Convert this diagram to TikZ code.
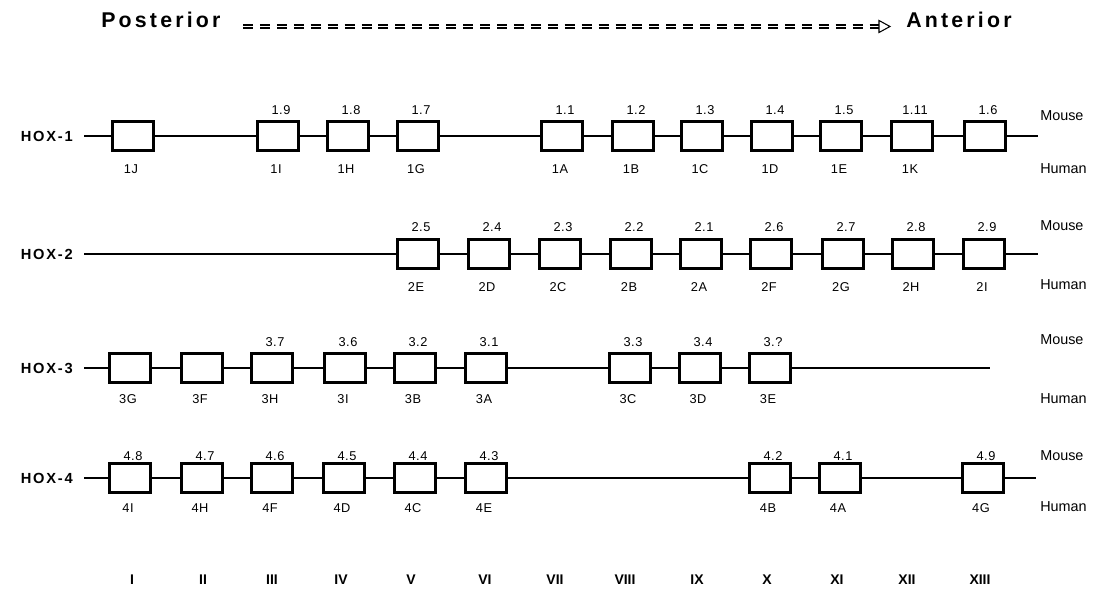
\documentclass[tikz,border=0pt]{standalone}
\usepackage{fontspec}
\setmainfont{Liberation Sans}
\newfontfamily\trackfont{Liberation Sans}[LetterSpace=15]
\newfontfamily\hoxfont{Liberation Sans}[LetterSpace=12]
\newfontfamily\lblfont{Liberation Sans}[LetterSpace=4]
\usetikzlibrary{arrows.meta}
\tikzset{
  genebox/.style={draw, line width=2.7pt, minimum width=31pt, minimum height=21.5pt, inner sep=0pt},
  conn/.style={line width=1.25pt},
  mlab/.style={font=\lblfont\fontsize{9.6}{11}\selectfont, inner sep=0pt},
  hlab/.style={font=\lblfont\fontsize{9.6}{11}\selectfont, inner sep=0pt},
  side/.style={font=\fontsize{10.8}{12}\selectfont, anchor=west, inner sep=0pt},
  hox/.style={font=\hoxfont\bfseries\fontsize{11}{13}\selectfont, anchor=east, inner sep=0pt},
  title/.style={font=\trackfont\bfseries\fontsize{16}{18}\selectfont, inner sep=0pt},
  roman/.style={font=\bfseries\fontsize{10.5}{12}\selectfont, inner sep=0pt},
  dblarrow/.style={line width=1.1pt, double, double distance=1.4pt, dash pattern=on 7.5pt off 5.2pt}
}
\newcommand\gene[4]{%
  \node[genebox] (#1) at (#2,\rowy) {};
  \if\relax\detokenize{#3}\relax\else\node[mlab] (#1m) at (#2+3,\my) {#3};\fi
  \if\relax\detokenize{#4}\relax\else\node[hlab] (#1h) at (#2-2,\hy) {#4};\fi
}
\begin{document}
\begin{tikzpicture}[x=0.75pt,y=-0.75pt]
\useasboundingbox (0,0) rectangle (1094,602);

% header
\node[title, anchor=west] (post) at (101,20) {Posterior};
\node[title, anchor=west] (ant) at (906,20) {Anterior};
\coordinate (arrS) at (243,26.5);
\coordinate (arrB) at (879,26.5);
\draw[dblarrow] (arrS) -- (arrB);
\draw[line width=0.8pt, fill=white, line join=miter] (arrB) ++(0,-6) -- ++(11,6) -- ++(-11,6) -- cycle;

% ---------- HOX-1
\def\rowy{136}\def\my{110}\def\hy{169}
\node[hox] (hox1) at (73,\rowy) {HOX-1};
\coordinate (s1) at (84,\rowy);
\coordinate (e1) at (1038,\rowy);
\gene{g1J}{133}{}{1J}
\gene{g1I}{278}{1.9}{1I}
\gene{g1H}{348}{1.8}{1H}
\gene{g1G}{418}{1.7}{1G}
\gene{g1A}{562}{1.1}{1A}
\gene{g1B}{633}{1.2}{1B}
\gene{g1C}{702}{1.3}{1C}
\gene{g1D}{772}{1.4}{1D}
\gene{g1E}{841}{1.5}{1E}
\gene{g1K}{912}{1.11}{1K}
\gene{g1L}{985}{1.6}{}
\foreach \a/\b in {s1/g1J,g1J/g1I,g1I/g1H,g1H/g1G,g1G/g1A,g1A/g1B,g1B/g1C,g1C/g1D,g1D/g1E,g1E/g1K,g1K/g1L,g1L/e1}
  \draw[conn] (\a) -- (\b);
\node[side] (mo1) at (1040,116) {Mouse};
\node[side] (hu1) at (1040,169) {Human};

% ---------- HOX-2
\def\rowy{254}\def\my{227}\def\hy{287}
\node[hox] (hox2) at (73,\rowy) {HOX-2};
\coordinate (s2) at (84,\rowy);
\coordinate (e2) at (1038,\rowy);
\gene{g2E}{418}{2.5}{2E}
\gene{g2D}{489}{2.4}{2D}
\gene{g2C}{560}{2.3}{2C}
\gene{g2B}{631}{2.2}{2B}
\gene{g2A}{701}{2.1}{2A}
\gene{g2F}{771}{2.6}{2F}
\gene{g2G}{843}{2.7}{2G}
\gene{g2H}{913}{2.8}{2H}
\gene{g2I}{984}{2.9}{2I}
\foreach \a/\b in {s2/g2E,g2E/g2D,g2D/g2C,g2C/g2B,g2B/g2A,g2A/g2F,g2F/g2G,g2G/g2H,g2H/g2I,g2I/e2}
  \draw[conn] (\a) -- (\b);
\node[side] (mo2) at (1040,226) {Mouse};
\node[side] (hu2) at (1040,285) {Human};

% ---------- HOX-3
\def\rowy{368}\def\my{342}\def\hy{399}
\node[hox] (hox3) at (73,\rowy) {HOX-3};
\coordinate (s3) at (84,\rowy);
\coordinate (e3) at (990,\rowy);
\gene{g3G}{130}{}{3G}
\gene{g3F}{202}{}{3F}
\gene{g3H}{272}{3.7}{3H}
\gene{g3I}{345}{3.6}{3I}
\gene{g3B}{415}{3.2}{3B}
\gene{g3A}{486}{3.1}{3A}
\gene{g3C}{630}{3.3}{3C}
\gene{g3D}{700}{3.4}{3D}
\gene{g3E}{770}{3.?}{3E}
\foreach \a/\b in {s3/g3G,g3G/g3F,g3F/g3H,g3H/g3I,g3I/g3B,g3B/g3A,g3A/g3C,g3C/g3D,g3D/g3E,g3E/e3}
  \draw[conn] (\a) -- (\b);
\node[side] (mo3) at (1040,340) {Mouse};
\node[side] (hu3) at (1040,399) {Human};

% ---------- HOX-4
\def\rowy{478}\def\my{456}\def\hy{508}
\node[hox] (hox4) at (73,\rowy) {HOX-4};
\coordinate (s4) at (84,\rowy);
\coordinate (e4) at (1036,\rowy);
\gene{g4I}{130}{4.8}{4I}
\gene{g4H}{202}{4.7}{4H}
\gene{g4F}{272}{4.6}{4F}
\gene{g4D}{344}{4.5}{4D}
\gene{g4C}{415}{4.4}{4C}
\gene{g4E}{486}{4.3}{4E}
\gene{g4B}{770}{4.2}{4B}
\gene{g4A}{840}{4.1}{4A}
\gene{g4G}{983}{4.9}{4G}
\foreach \a/\b in {s4/g4I,g4I/g4H,g4H/g4F,g4F/g4D,g4D/g4C,g4C/g4E,g4E/g4B,g4B/g4A,g4A/g4G,g4G/e4}
  \draw[conn] (\a) -- (\b);
\node[side] (mo4) at (1040,456) {Mouse};
\node[side] (hu4) at (1040,507) {Human};

% ---------- column numerals
\foreach \n/\x/\t in {1/132/I,2/203/II,3/272/III,4/341/IV,5/411/V,6/485/VI,7/555/VII,8/625/VIII,9/697/IX,10/767/X,11/837/XI,12/907/XII,13/980/XIII}
  \node[roman] (col\n) at (\x,580) {\t};
\end{tikzpicture}
\end{document}
